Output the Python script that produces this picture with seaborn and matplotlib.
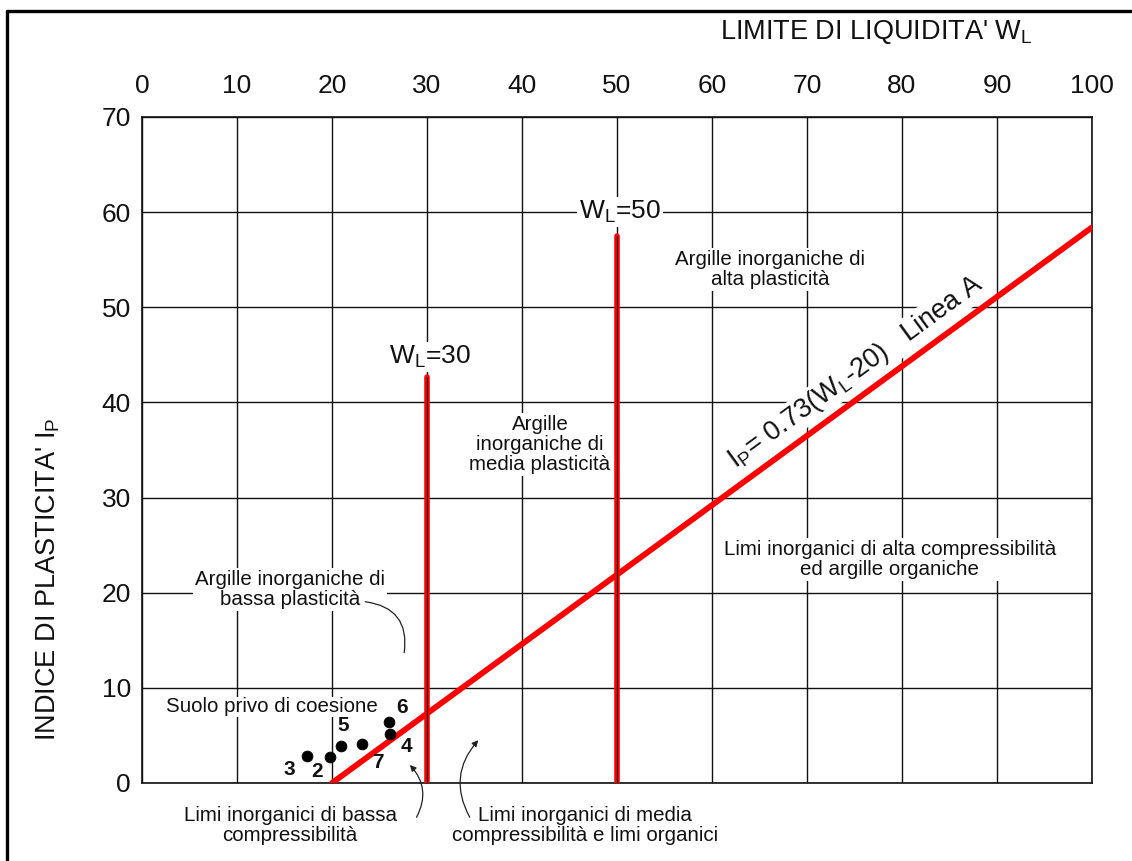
import matplotlib
matplotlib.use("Agg")
import matplotlib.pyplot as plt
from matplotlib.lines import Line2D
import seaborn as sns
import pandas as pd

# ---- data ----
point_ids = ["2", "3", "4", "5", "6", "7"]
wl_values = [19.8, 17.4, 26.1, 20.9, 26.0, 23.2]
ip_values = [2.7, 2.8, 5.2, 3.9, 6.4, 4.1]
label_dx_px = [-13, -18, 16, 3, 13, 15]
label_dy_px = [-14, -13, -13, 20, 15, -19]

line_a_wl = [20, 100]
line_a_ip = [0, 58.4]
wl30_x = [30, 30]
wl30_y = [0, 42.7]
wl50_x = [50, 50]
wl50_y = [0, 57.5]

x_ticks = [0, 10, 20, 30, 40, 50, 60, 70, 80, 90, 100]
y_ticks = [0, 10, 20, 30, 40, 50, 60, 70]

sns.set_theme(style="white")
plt.rcParams["font.family"] = ["Liberation Sans", "DejaVu Sans"]
plt.rcParams["mathtext.default"] = "regular"

W, H = 1132, 861
fig = plt.figure(figsize=(W / 100, H / 100), dpi=100)
ax = fig.add_axes([142 / W, 1 - 783 / H, 950 / W, 666 / H])

pts = pd.DataFrame({"wl": wl_values, "ip": ip_values, "id": point_ids})
lineA = pd.DataFrame({"wl": line_a_wl, "ip": line_a_ip})
v30 = pd.DataFrame({"wl": wl30_x, "ip": wl30_y})
v50 = pd.DataFrame({"wl": wl50_x, "ip": wl50_y})

ax.set_xlim(0, 100)
ax.set_ylim(0, 70)
ax.set_xticks(x_ticks)
ax.set_yticks(y_ticks)
ax.xaxis.tick_top()
ax.tick_params(axis="both", length=0, labelsize=19, colors="#111111")
ax.tick_params(axis="x", pad=14)
ax.tick_params(axis="y", pad=8)
ax.grid(True, color="#111111", linewidth=1.0)
ax.set_axisbelow(True)
for s in ax.spines.values():
    s.set_color("#111111")
    s.set_linewidth(1.2)

# red lines
sns.lineplot(data=lineA, x="wl", y="ip", color="#ff0000", linewidth=4.2, ax=ax,
             zorder=4, estimator=None, sort=False)
for d in (v30, v50):
    sns.lineplot(data=d, x="wl", y="ip", color="#ff0000", linewidth=4.0, ax=ax,
                 zorder=4, estimator=None, sort=False)
    sns.lineplot(data=d, x="wl", y="ip", color="#330000", linewidth=0.9, ax=ax,
                 zorder=4.5, estimator=None, sort=False)

# points
sns.scatterplot(data=pts, x="wl", y="ip", color="black", s=60, marker="o",
                edgecolor="black", ax=ax, zorder=5, clip_on=False)
for pid, x, y, dx, dy in zip(point_ids, wl_values, ip_values, label_dx_px, label_dy_px):
    ax.annotate(pid, xy=(x, y), xytext=(dx, dy), textcoords="offset pixels",
                ha="center", va="center", fontsize=15, fontweight="bold",
                color="#111111", zorder=6)

ax.set_xlabel("")
ax.set_ylabel("")

wbox = dict(facecolor="white", edgecolor="none", pad=1.5)
txt_kw = dict(ha="center", va="center", color="#111111", zorder=3, linespacing=1.05)
fs = 14.8

ax.text(30.3, 44.8, "W$_L$=30", fontsize=19, bbox=wbox, **txt_kw)
ax.text(50.3, 60.0, "W$_L$=50", fontsize=19, bbox=wbox, **txt_kw)
ax.text(41.9, 35.6, "Argille\ninorganiche di\nmedia plasticità", fontsize=fs, bbox=wbox, **txt_kw)
ax.text(66.1, 54.0, "Argille inorganiche di\nalta plasticità", fontsize=fs, bbox=wbox, **txt_kw)
ax.text(78.7, 23.5, "Limi inorganici di alta compressibilità\ned argille organiche", fontsize=fs,
        bbox=wbox, **txt_kw)
ax.text(15.6, 20.3, "Argille inorganiche di\nbassa plasticità", fontsize=fs, bbox=wbox, **txt_kw)
ax.text(13.7, 8.0, "Suolo privo di coesione", fontsize=14.8,
        bbox=dict(facecolor="white", edgecolor="none", pad=0.3), **txt_kw)
ax.text(15.6, -4.5, "Limi inorganici di bassa\ncompressibilità", fontsize=fs, clip_on=False, **txt_kw)
ax.text(46.6, -4.5, "Limi inorganici di media\ncompressibilità e limi organici", fontsize=fs,
        clip_on=False, **txt_kw)

ax.text(62.4, 33.0, "I$_P$= 0.73(W$_L$-20)   Linea A", fontsize=19.5, rotation=36.1,
        rotation_mode="anchor", ha="left", va="baseline", color="#111111", zorder=3,
        bbox=dict(facecolor="white", edgecolor="none", pad=1.0))

# curved leaders
ax.annotate("", xy=(27.6, 13.7), xytext=(23.5, 19.05),
            arrowprops=dict(arrowstyle="-", color="#222222", lw=0.9,
                            connectionstyle="arc3,rad=-0.5", shrinkA=0, shrinkB=0),
            annotation_clip=False, zorder=3)
ax.annotate("", xy=(28.2, 1.9), xytext=(28.9, -3.6),
            arrowprops=dict(arrowstyle="-|>", color="#222222", lw=0.9, mutation_scale=9,
                            connectionstyle="arc3,rad=0.35", shrinkA=0, shrinkB=0),
            annotation_clip=False, zorder=3)
ax.annotate("", xy=(35.4, 4.5), xytext=(34.5, -3.6),
            arrowprops=dict(arrowstyle="-|>", color="#222222", lw=0.9, mutation_scale=9,
                            connectionstyle="arc3,rad=-0.35", shrinkA=0, shrinkB=0),
            annotation_clip=False, zorder=3)

# axis titles
fig.text(876 / W, 1 - 32 / H, "LIMITE DI LIQUIDITA' W$_L$", fontsize=19.5,
         ha="center", va="center", color="#111111")
fig.text(48 / W, 1 - 579 / H, "INDICE DI PLASTICITA' I$_P$", fontsize=19.5, rotation=90,
         ha="center", va="center", color="#111111")

# frame around figure
fig.add_artist(Line2D([7 / W, 7 / W], [0, 1 - 11 / H], color="black", linewidth=2.4))
fig.add_artist(Line2D([7 / W, 1], [1 - 11 / H, 1 - 11 / H], color="black", linewidth=2.4))

fig.savefig("out.png", dpi=100)
